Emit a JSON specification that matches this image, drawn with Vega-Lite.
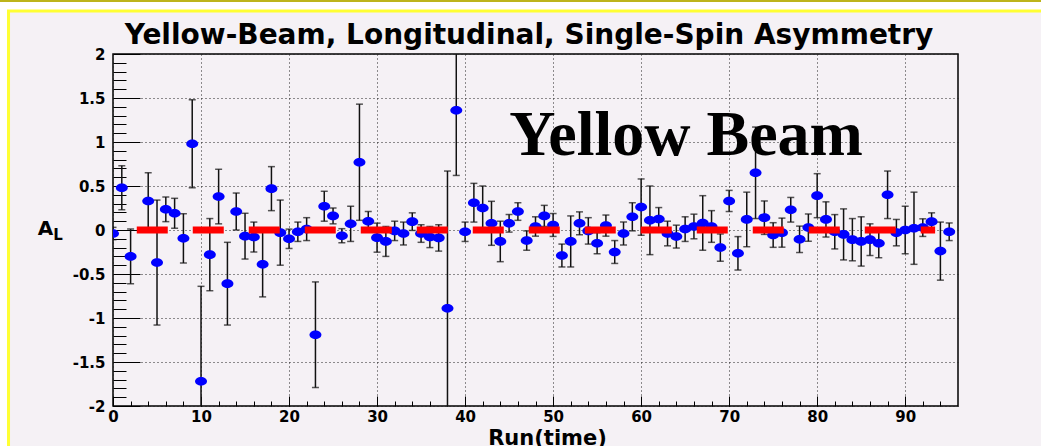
{
  "$schema": "https://vega.github.io/schema/vega-lite/v6.json",
  "width": 845,
  "height": 352,
  "autosize": {"type": "none"},
  "padding": {"left": 113, "top": 54, "right": 83, "bottom": 40},
  "background": "#f5f1f5",
  "config": {
    "view": {"stroke": "#000000", "strokeWidth": 1.5},
    "axis": {"labelFont": "DejaVu Sans", "titleFont": "DejaVu Sans"}
  },
  "datasets": {
    "runs": [
      {"run": 0, "A": -0.04, "err": 0.07},
      {"run": 1, "A": 0.48, "err": 0.25},
      {"run": 2, "A": -0.3, "err": 0.31},
      {"run": 4, "A": 0.33, "err": 0.32},
      {"run": 5, "A": -0.37, "err": 0.71},
      {"run": 6, "A": 0.235, "err": 0.14},
      {"run": 7, "A": 0.19, "err": 0.17},
      {"run": 8, "A": -0.095, "err": 0.28},
      {"run": 9, "A": 0.98, "err": 0.5},
      {"run": 10, "A": -1.72, "err": 1.08},
      {"run": 11, "A": -0.28, "err": 0.41},
      {"run": 12, "A": 0.38, "err": 0.31},
      {"run": 13, "A": -0.61, "err": 0.47},
      {"run": 14, "A": 0.21, "err": 0.21},
      {"run": 15, "A": -0.07, "err": 0.26},
      {"run": 16, "A": -0.08, "err": 0.17},
      {"run": 17, "A": -0.39, "err": 0.37},
      {"run": 18, "A": 0.47, "err": 0.25},
      {"run": 19, "A": -0.03, "err": 0.37},
      {"run": 20, "A": -0.1, "err": 0.11},
      {"run": 21, "A": -0.02, "err": 0.11},
      {"run": 22, "A": 0.01, "err": 0.13},
      {"run": 23, "A": -1.19, "err": 0.6},
      {"run": 24, "A": 0.27, "err": 0.17},
      {"run": 25, "A": 0.16, "err": 0.09},
      {"run": 26, "A": -0.065, "err": 0.08},
      {"run": 27, "A": 0.07, "err": 0.2},
      {"run": 28, "A": 0.77, "err": 0.66},
      {"run": 29, "A": 0.1, "err": 0.11},
      {"run": 30, "A": -0.087, "err": 0.165},
      {"run": 31, "A": -0.13, "err": 0.17},
      {"run": 32, "A": -0.01, "err": 0.11},
      {"run": 33, "A": -0.04, "err": 0.13},
      {"run": 34, "A": 0.095, "err": 0.1},
      {"run": 35, "A": -0.04, "err": 0.1},
      {"run": 36, "A": -0.08, "err": 0.12},
      {"run": 37, "A": -0.09, "err": 0.15},
      {"run": 38, "A": -0.89, "err": 1.56},
      {"run": 39, "A": 1.36, "err": 0.74},
      {"run": 40, "A": -0.02, "err": 0.11},
      {"run": 41, "A": 0.31, "err": 0.22},
      {"run": 42, "A": 0.25, "err": 0.25},
      {"run": 43, "A": 0.076, "err": 0.25},
      {"run": 44, "A": -0.13, "err": 0.23},
      {"run": 45, "A": 0.076, "err": 0.1},
      {"run": 46, "A": 0.21, "err": 0.1},
      {"run": 47, "A": -0.12, "err": 0.11},
      {"run": 48, "A": 0.04, "err": 0.11},
      {"run": 49, "A": 0.16, "err": 0.12},
      {"run": 50, "A": 0.057, "err": 0.13},
      {"run": 51, "A": -0.29, "err": 0.13},
      {"run": 52, "A": -0.13, "err": 0.29},
      {"run": 53, "A": 0.076, "err": 0.13},
      {"run": 54, "A": -0.01, "err": 0.15},
      {"run": 55, "A": -0.15, "err": 0.12},
      {"run": 56, "A": 0.05, "err": 0.12},
      {"run": 57, "A": -0.25, "err": 0.13},
      {"run": 58, "A": -0.04, "err": 0.13},
      {"run": 59, "A": 0.15, "err": 0.16},
      {"run": 60, "A": 0.26, "err": 0.32},
      {"run": 61, "A": 0.11, "err": 0.39},
      {"run": 62, "A": 0.125, "err": 0.13},
      {"run": 63, "A": -0.04, "err": 0.14},
      {"run": 64, "A": -0.075, "err": 0.13},
      {"run": 65, "A": 0.01, "err": 0.14},
      {"run": 66, "A": 0.04, "err": 0.14},
      {"run": 67, "A": 0.08, "err": 0.31},
      {"run": 68, "A": 0.04, "err": 0.18},
      {"run": 69, "A": -0.2, "err": 0.155},
      {"run": 70, "A": 0.33, "err": 0.12},
      {"run": 71, "A": -0.265, "err": 0.19},
      {"run": 72, "A": 0.12, "err": 0.31},
      {"run": 73, "A": 0.65, "err": 0.52},
      {"run": 74, "A": 0.14, "err": 0.19},
      {"run": 75, "A": -0.057, "err": 0.14},
      {"run": 76, "A": -0.03, "err": 0.165},
      {"run": 77, "A": 0.23, "err": 0.14},
      {"run": 78, "A": -0.106, "err": 0.15},
      {"run": 79, "A": 0.027, "err": 0.155},
      {"run": 80, "A": 0.39, "err": 0.25},
      {"run": 81, "A": 0.12, "err": 0.2},
      {"run": 82, "A": -0.02, "err": 0.195},
      {"run": 83, "A": -0.05, "err": 0.29},
      {"run": 84, "A": -0.11, "err": 0.24},
      {"run": 85, "A": -0.13, "err": 0.28},
      {"run": 86, "A": -0.11, "err": 0.18},
      {"run": 87, "A": -0.15, "err": 0.165},
      {"run": 88, "A": 0.4, "err": 0.27},
      {"run": 89, "A": -0.03, "err": 0.15},
      {"run": 90, "A": 0.0, "err": 0.27},
      {"run": 91, "A": 0.02, "err": 0.41},
      {"run": 92, "A": 0.027, "err": 0.1},
      {"run": 93, "A": 0.095, "err": 0.1},
      {"run": 94, "A": -0.24, "err": 0.33},
      {"run": 95, "A": -0.02, "err": 0.1}
    ],
    "fit": [{"start": 2.7, "end": 93.4, "level": 0}],
    "one": [{}]
  },
  "resolve": {
    "scale": {"x": "shared", "y": "shared"},
    "axis": {"x": "independent", "y": "independent"}
  },
  "layer": [
    {
      "data": {"name": "one"},
      "mark": {"type": "rect", "fill": "#ffffff", "clip": false},
      "encoding": {
        "x": {"datum": -20, "type": "quantitative", "axis": null, "scale": {"domain": [0, 96], "nice": false, "zero": false}},
        "x2": {"datum": 200},
        "y": {"datum": 2.489, "type": "quantitative", "axis": null, "scale": {"domain": [-2, 2], "nice": false, "zero": false}},
        "y2": {"datum": 3.3}
      }
    },
    {
      "data": {"name": "one"},
      "mark": {"type": "rect", "fill": "#ffffff", "clip": false},
      "encoding": {
        "x": {"datum": -20, "type": "quantitative", "axis": null, "scale": {"domain": [0, 96], "nice": false, "zero": false}},
        "x2": {"datum": -11.87},
        "y": {"datum": -10, "type": "quantitative", "axis": null, "scale": {"domain": [-2, 2], "nice": false, "zero": false}},
        "y2": {"datum": 3.3}
      }
    },
    {
      "data": {"name": "one"},
      "mark": {"type": "rect", "fill": "transparent", "stroke": "#ffff33", "strokeWidth": 3, "clip": false},
      "encoding": {
        "x": {"datum": -11.87, "type": "quantitative", "axis": null, "scale": {"domain": [0, 96], "nice": false, "zero": false}},
        "x2": {"datum": 200},
        "y": {"datum": -10, "type": "quantitative", "axis": null, "scale": {"domain": [-2, 2], "nice": false, "zero": false}},
        "y2": {"datum": 2.489}
      }
    },
    {
      "data": {"name": "one"},
      "mark": {"type": "rule", "color": "#bdb41a", "strokeWidth": 2.5, "clip": false},
      "encoding": {
        "x": {"datum": -20, "type": "quantitative", "axis": null, "scale": {"domain": [0, 96], "nice": false, "zero": false}},
        "x2": {"datum": 200},
        "y": {"datum": 2.605, "type": "quantitative", "axis": null, "scale": {"domain": [-2, 2], "nice": false, "zero": false}}
      }
    },
    {
      "data": {"name": "runs"},
      "mark": {"type": "point", "opacity": 0},
      "encoding": {
        "x": {
          "field": "run", "type": "quantitative",
          "scale": {"domain": [0, 96], "nice": false, "zero": false},
          "axis": {
            "orient": "bottom", "values": [0,2,4,6,8,10,12,14,16,18,20,22,24,26,28,30,32,34,36,38,40,42,44,46,48,50,52,54,56,58,60,62,64,66,68,70,72,74,76,78,80,82,84,86,88,90,92,94],
            "tickSize": -5, "tickColor": "#000000", "tickWidth": 1,
            "labels": false, "grid": false, "domain": false, "title": null
          }
        },
        "y": {
          "field": "A", "type": "quantitative",
          "scale": {"domain": [-2, 2], "nice": false, "zero": false},
          "axis": {
            "orient": "left", "values": [-1.9,-1.8,-1.7,-1.6,-1.4,-1.3,-1.2,-1.1,-0.9,-0.8,-0.7,-0.6,-0.4,-0.3,-0.2,-0.1,0.1,0.2,0.3,0.4,0.6,0.7,0.8,0.9,1.1,1.2,1.3,1.4,1.6,1.7,1.8,1.9],
            "tickSize": -13, "tickColor": "#000000", "tickWidth": 1,
            "labels": false, "grid": false, "domain": false, "title": null
          }
        }
      }
    },
    {
      "data": {"name": "runs"},
      "mark": {"type": "errorbar", "color": "#111111", "thickness": 1.5, "ticks": {"size": 7, "thickness": 1.5, "color": "#111111"}, "clip": true},
      "encoding": {
        "x": {"field": "run", "type": "quantitative", "scale": {"domain": [0, 96], "nice": false, "zero": false}, "axis": null},
        "y": {"field": "A", "type": "quantitative", "scale": {"domain": [-2, 2], "nice": false, "zero": false}, "axis": null},
        "yError": {"field": "err"}
      }
    },
    {
      "data": {"name": "runs"},
      "mark": {
        "type": "point", "filled": true, "color": "#0000ff", "opacity": 1, "size": 144, "strokeWidth": 0, "clip": true,
        "shape": "M -1 0 A 1 0.72 0 1 0 1 0 A 1 0.72 0 1 0 -1 0 Z"
      },
      "encoding": {
        "x": {
          "field": "run", "type": "quantitative",
          "scale": {"domain": [0, 96], "nice": false, "zero": false},
          "axis": {
            "orient": "bottom", "values": [0,10,20,30,40,50,60,70,80,90],
            "tickSize": -10, "tickColor": "#000000", "tickWidth": 1,
            "domain": false,
            "grid": true, "gridColor": "#222222", "gridDash": [1, 3], "gridWidth": 1, "gridOpacity": 1,
            "labelExpr": "datum.value + ''",
            "labelFont": "DejaVu Sans", "labelFontWeight": "bold", "labelFontSize": 15, "labelColor": "#000000",
            "labelPadding": 13, "labelFlush": false, "labelOverlap": false,
            "title": "Run(time)", "titleFont": "DejaVu Sans", "titleFontWeight": "bold", "titleFontSize": 21, "titleColor": "#000000",
            "titleX": 434, "titleY": 38, "titleBaseline": "alphabetic"
          }
        },
        "y": {
          "field": "A", "type": "quantitative",
          "scale": {"domain": [-2, 2], "nice": false, "zero": false},
          "axis": {
            "orient": "left", "values": [-2,-1.5,-1,-0.5,0,0.5,1,1.5,2],
            "tickSize": -27, "tickColor": "#000000", "tickWidth": 1,
            "domain": false,
            "grid": true, "gridColor": "#222222", "gridDash": [1, 3], "gridWidth": 1, "gridOpacity": 1,
            "labelExpr": "datum.value + ''",
            "labelFont": "DejaVu Sans", "labelFontWeight": "bold", "labelFontSize": 15, "labelColor": "#000000",
            "labelPadding": 35, "labelFlush": false, "labelOverlap": false,
            "title": "A", "titleFont": "DejaVu Sans", "titleFontWeight": "bold", "titleFontSize": 20, "titleColor": "#000000",
            "titleAngle": 0, "titleX": -68, "titleY": 180, "titleAlign": "center", "titleBaseline": "alphabetic"
          }
        }
      }
    },
    {
      "data": {"name": "fit"},
      "mark": {"type": "rule", "color": "#ff0000", "strokeWidth": 7, "strokeDash": [31, 25], "strokeCap": "butt", "clip": true},
      "encoding": {
        "x": {"field": "start", "type": "quantitative", "scale": {"domain": [0, 96], "nice": false, "zero": false}, "axis": null},
        "x2": {"field": "end"},
        "y": {"field": "level", "type": "quantitative", "scale": {"domain": [-2, 2], "nice": false, "zero": false}, "axis": null}
      }
    },
    {
      "data": {"name": "one"},
      "mark": {"type": "text", "text": "Yellow Beam", "font": "Liberation Serif", "fontWeight": "bold", "fontSize": 64, "color": "#000000", "align": "center", "baseline": "alphabetic"},
      "encoding": {
        "x": {"datum": 65.1, "type": "quantitative", "scale": {"domain": [0, 96], "nice": false, "zero": false}, "axis": null},
        "y": {"datum": 0.852, "type": "quantitative", "scale": {"domain": [-2, 2], "nice": false, "zero": false}, "axis": null}
      }
    },
    {
      "data": {"name": "one"},
      "mark": {"type": "text", "text": "Yellow-Beam, Longitudinal, Single-Spin Asymmetry", "font": "DejaVu Sans", "fontWeight": "bold", "fontSize": 28, "color": "#000000", "align": "center", "baseline": "alphabetic", "clip": false},
      "encoding": {
        "x": {"datum": 47.26, "type": "quantitative", "scale": {"domain": [0, 96], "nice": false, "zero": false}, "axis": null},
        "y": {"datum": 2.114, "type": "quantitative", "scale": {"domain": [-2, 2], "nice": false, "zero": false}, "axis": null}
      }
    },
    {
      "data": {"name": "one"},
      "mark": {"type": "text", "text": "L", "font": "DejaVu Sans", "fontWeight": "bold", "fontSize": 15, "color": "#000000", "align": "center", "baseline": "alphabetic", "clip": false},
      "encoding": {
        "x": {"datum": -6.25, "type": "quantitative", "scale": {"domain": [0, 96], "nice": false, "zero": false}, "axis": null},
        "y": {"datum": -0.114, "type": "quantitative", "scale": {"domain": [-2, 2], "nice": false, "zero": false}, "axis": null}
      }
    }
  ]
}
